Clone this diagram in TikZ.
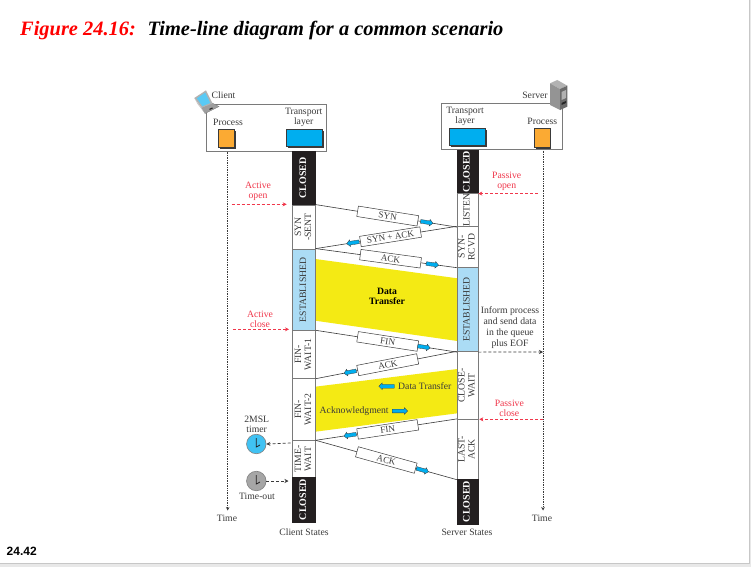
\documentclass[tikz,border=0pt]{standalone}
\usepackage{fontspec}
\setmainfont{Liberation Serif}
\setsansfont{Liberation Sans}
\usetikzlibrary{shapes.arrows,shadows,arrows.meta}
\definecolor{ink}{HTML}{3A3A3A}
\definecolor{edge}{HTML}{7A7A7A}
\definecolor{redtxt}{HTML}{F0374B}
\definecolor{cyanb}{HTML}{00AEEF}
\definecolor{orangeb}{HTML}{FBAA33}
\definecolor{estb}{HTML}{ABDCF5}
\definecolor{yel}{HTML}{F4EA14}
\definecolor{blk}{HTML}{231F20}
\tikzset{
  x=1pt,y=-1pt,
  lbl/.style={font=\fontsize{9.7}{10}\selectfont,text=ink,inner sep=0pt,align=center},
  redlbl/.style={font=\fontsize{9.7}{10}\selectfont,text=redtxt,inner sep=0pt,align=center},
  frame/.style={draw=edge,line width=1pt,fill=white,inner sep=0pt},
  proc/.style={draw=ink,line width=.6pt,fill=orangeb,inner sep=0pt,copy shadow={shadow xshift=1.5pt,shadow yshift=-1.5pt,fill=ink,draw=none}},
  tport/.style={draw=ink,line width=.6pt,fill=cyanb,inner sep=0pt,copy shadow={shadow xshift=1.5pt,shadow yshift=-1.5pt,fill=ink,draw=none}},
  statew/.style={draw=edge,line width=.8pt,fill=white,text=ink,inner sep=0pt},
  stateb/.style={draw=edge,line width=.8pt,fill=estb,text=ink,inner sep=0pt},
  statek/.style={draw=blk,line width=.8pt,fill=blk,text=white,font=\fontsize{10}{10}\selectfont\bfseries,inner sep=0pt},
  wire/.style={draw=ink,line width=.6pt},
  msg/.style={draw=ink,line width=.5pt,fill=white,sloped,minimum width=61pt,minimum height=10.5pt,inner sep=0pt,text=ink,font=\fontsize{9.2}{9.5}\selectfont},
  arrR/.style={shape=single arrow,draw=ink,line width=.3pt,fill=cyanb,sloped,inner sep=1.7pt,minimum height=12.5pt,single arrow head extend=1.5pt},
  arrL/.style={arrR,shape border rotate=180},
  flatR/.style={shape=single arrow,draw=ink,line width=.3pt,fill=cyanb,inner sep=1.7pt,minimum height=15.5pt,single arrow head extend=1.5pt},
  flatL/.style={flatR,shape border rotate=180},
  life/.style={densely dotted,draw=ink,line width=.7pt,-{Stealth[length=3.5pt,width=3.5pt]}},
  redarr/.style={densely dashed,draw=redtxt,line width=.6pt,-{Stealth[length=4pt,width=4pt]}},
  blkarr/.style={densely dashed,draw=ink,line width=.7pt,-{Stealth[length=4pt,width=4pt]}},
  clockface/.style={circle,draw=black!50,line width=.6pt,minimum size=19.5pt,inner sep=0pt},
  hand/.style={draw=blk,line width=.8pt},
}
\newcommand{\statebox}[7]{%
  \pgfmathsetmacro{\sbw}{#3-#2}\pgfmathsetmacro{\sbh}{#5-#4}%
  \pgfmathsetmacro{\sbx}{(#3+#2)/2}\pgfmathsetmacro{\sby}{(#5+#4)/2}%
  \node[#6,minimum width=\sbw pt,minimum height=\sbh pt] (#1) at (\sbx,\sby)
    {\rotatebox{90}{\begin{tabular}{@{}c@{}}#7\end{tabular}}};}
\begin{document}
\begin{tikzpicture}
\useasboundingbox (0,0) rectangle (751,567);
\fill[white] (0,0) rectangle (751,567);
\fill[black!9] (0,563) rectangle (751,567);
\fill[black!9] (749,0) rectangle (751,567);
\draw[black!22,line width=.8pt] (0,563.4) -- (749.4,563.4) -- (749.4,0);

% title
\node[anchor=base west,inner sep=0pt,text=red,font=\fontsize{20.4}{22}\selectfont\bfseries\itshape] (t1) at (20,35.5) {Figure 24.16:};
\node[anchor=base west,inner sep=0pt,text=black,font=\fontsize{20.4}{22}\selectfont\bfseries\itshape] (t2) at (147.5,35.5) {Time-line diagram for a common scenario};
\node[anchor=base west,inner sep=0pt,text=black,font=\sffamily\bfseries\fontsize{12}{12}\selectfont] (pg) at (6.5,555.5) {24.42};

% boxes
\node[frame,minimum width=120.7pt,minimum height=46pt] (cbox) at (266.4,128) {};
\node[frame,minimum width=120.7pt,minimum height=46pt] (sbox) at (501.7,126.7) {};
\node[proc,minimum width=15.3pt,minimum height=18.4pt] (cproc) at (226.4,138.5) {};
\node[tport,minimum width=36.4pt,minimum height=16.7pt] (ctp) at (304.5,137.7) {};
\node[tport,minimum width=36.4pt,minimum height=16.7pt] (stp) at (467.5,136.7) {};
\node[proc,minimum width=15.3pt,minimum height=18.7pt] (sproc) at (542.3,137.7) {};

\node[lbl] (lc) at (223.5,95) {Client};
\node[lbl] (ls) at (535,95) {Server};
\node[lbl] (lcp) at (228,122) {Process};
\node[lbl] (lsp) at (542.3,121.7) {Process};
\node[lbl] (lct) at (303.7,117.5) {Transport\\[-.3pt]layer};
\node[lbl] (lst) at (465,116.2) {Transport\\[-.3pt]layer};

% laptop
\fill[black!38,draw=black!50,line width=.3pt] (201.5,108) -- (212,103) -- (219,106.5) -- (205,113.5) -- cycle;
\fill[black!30] (194.3,98) -- (206,90.3) -- (212.5,103.5) -- (201.5,108) -- cycle;
\fill[cyanb!65] (196.8,98.3) -- (205.3,92.6) -- (210.3,103) -- (202.3,106.2) -- cycle;
\fill[black!22] (194.3,98) -- (201.5,108) -- (205,113.5) -- (197.5,104) -- cycle;
\fill[black!85] (209,109) -- (212,107.5) -- (213,108.3) -- (210,109.8) -- cycle;

% server
\fill[black!30] (550,83.3) -- (557.3,80) -- (567.3,85.7) -- (560,89) -- cycle;
\fill[black!42] (550,83.3) -- (560,89) -- (560,110) -- (550,105) -- cycle;
\fill[black!58] (560,89) -- (567.3,85.7) -- (567.3,106.7) -- (560,110) -- cycle;
\fill[black!30] (561.5,92) -- (566,90) -- (566,98) -- (561.5,100) -- cycle;
\fill[black!85] (561.5,103) -- (566,101) -- (566,103) -- (561.5,105) -- cycle;

% yellow areas
\fill[yel] (315.3,259) -- (457.3,278.3) -- (457.3,341) -- (315.3,320.7) -- cycle;
\fill[yel] (315.3,386.7) -- (457.3,369) -- (457.3,413.3) -- (315.3,431.7) -- cycle;

% lifelines
\coordinate (cl1) at (227.7,151.5);
\coordinate (cl2) at (227.7,510.5);
\coordinate (sl1) at (543,150.5);
\coordinate (sl2) at (543,510.5);
\draw[life] (cl1) -- (cl2);
\draw[life] (sl1) -- (sl2);
\node[lbl] (tc) at (227,518.5) {Time};
\node[lbl] (ts) at (542,518.5) {Time};
\node[lbl] (csl) at (304,532) {Client States};
\node[lbl] (ssl) at (467,532) {Server States};

% client states
\statebox{c1}{292.7}{315.3}{151}{205}{statek}{CLOSED}
\statebox{c2}{292.7}{315.3}{205}{249}{statew,font=\fontsize{9.7}{10}\selectfont}{SYN\\-SENT}
\statebox{c3}{292.7}{315.3}{249}{330.7}{stateb,font=\fontsize{9.7}{10}\selectfont}{ESTABLISHED}
\statebox{c4}{292.7}{315.3}{330.7}{378.3}{statew,font=\fontsize{9.7}{10}\selectfont}{FIN-\\WAIT-1}
\statebox{c5}{292.7}{315.3}{378.3}{440.7}{statew,font=\fontsize{9.7}{10}\selectfont}{FIN-\\WAIT-2}
\statebox{c6}{292.7}{315.3}{440.7}{477.3}{statew,font=\fontsize{9.7}{10}\selectfont}{TIME-\\WAIT}
\statebox{c7}{292.7}{315.3}{477.3}{522}{statek}{CLOSED}
% server states
\statebox{s1}{457.3}{478}{150}{193.3}{statek}{CLOSED}
\statebox{s2}{457.3}{478}{193.3}{226.7}{statew,font=\fontsize{9.7}{10}\selectfont}{LISTEN}
\statebox{s3}{457.3}{478}{226.7}{267.3}{statew,font=\fontsize{9.7}{10}\selectfont}{SYN-\\RCVD}
\statebox{s4}{457.3}{478}{267.3}{351.7}{stateb,font=\fontsize{9.7}{10}\selectfont}{ESTABLISHED}
\statebox{s5}{457.3}{478}{351.7}{419.3}{statew,font=\fontsize{9.7}{10}\selectfont}{CLOSE-\\WAIT}
\statebox{s6}{457.3}{478}{419.3}{479.3}{statew,font=\fontsize{9.7}{10}\selectfont}{LAST-\\ACK}
\statebox{s7}{457.3}{478}{479.3}{524}{statek}{CLOSED}

% messages
\draw[wire] (c2.north east) -- node[msg,pos=.51] (m1) {SYN} node[arrR,pos=.78] (a1) {} (s2.south west);
\draw[wire] (s3.north west) -- node[msg,pos=.47] (m2) {SYN + ACK} node[arrL,pos=.73] (a2) {} (c3.north east);
\draw[wire] (c3.north east) -- node[msg,pos=.53] (m3) {ACK} node[arrR,pos=.82] (a3) {} (s3.south west);
\draw[wire] (c4.north east) -- node[msg,pos=.51] (m4) {FIN} node[arrR,pos=.76] (a4) {} (s4.south west);
\draw[wire] (s5.north west) -- node[msg,pos=.49] (m5) {ACK} node[arrL,pos=.75] (a5) {} (c4.south east);
\draw[wire] (s6.north west) -- node[msg,pos=.49] (m6) {FIN} node[arrL,pos=.75] (a6) {} (c6.north east);
\draw[wire] (c6.north east) -- node[msg,pos=.5] (m7) {ACK} node[arrR,pos=.75] (a7) {} (s6.south west);

% yellow labels
\node[font=\fontsize{9.7}{10.2}\selectfont\bfseries,inner sep=0pt,align=center,text=black] (dt) at (387,296.5) {Data\\Transfer};
\node[flatL] (fa) at (387.5,386.3) {};
\node[lbl,anchor=west] (dt2) at (398,386.3) {Data Transfer};
\node[lbl,anchor=west] (ak) at (319.5,411) {Acknowledgment};
\node[flatR] (fb) at (399,411) {};

% red labels and arrows
\node[redlbl] (ao) at (258,191) {Active\\open};
\node[redlbl] (po) at (506.7,181) {Passive\\open};
\node[redlbl] (ac) at (260,319) {Active\\close};
\node[redlbl] (pc) at (509.3,408.5) {Passive\\close};
\coordinate (ao1) at (231.7,204.3);
\coordinate (ao2) at (286.7,204.3);
\coordinate (po1) at (537.7,193.6);
\coordinate (po2) at (478.3,193.6);
\coordinate (ac1) at (233,329.3);
\coordinate (ac2) at (289,329.3);
\coordinate (pc1) at (543,419.3);
\coordinate (pc2) at (479.3,419.3);
\draw[redarr] (ao1) -- (ao2);
\draw[redarr] (po1) -- (po2);
\draw[redarr] (ac1) -- (ac2);
\draw[redarr] (pc1) -- (pc2);

% inform
\node[lbl] (inf) at (510,327.2) {Inform process\\[1pt]and send data\\[1pt]in the queue\\[1pt]plus EOF};
\coordinate (inf2) at (543,352);
\draw[blkarr] (s4.south east) -- (inf2);

% clocks
\node[clockface,fill=cyanb!75] (k1) at (256.3,444) {};
\node[clockface,fill=black!35] (k2) at (256.3,481) {};
\draw[hand] (256.3,438) -- (256.3,447) -- (260,445);
\draw[hand] (256.3,475) -- (256.3,484) -- (260,482);
\node[lbl] (km) at (256.7,424.7) {2MSL\\timer};
\node[lbl] (kt) at (257,496.7) {Time-out};
\coordinate (d1) at (290.7,443);
\coordinate (d2) at (288.5,481);
\draw[blkarr] (d1) -- (k1.east);
\draw[blkarr] (k2.east) -- (d2);
\end{tikzpicture}
\end{document}
